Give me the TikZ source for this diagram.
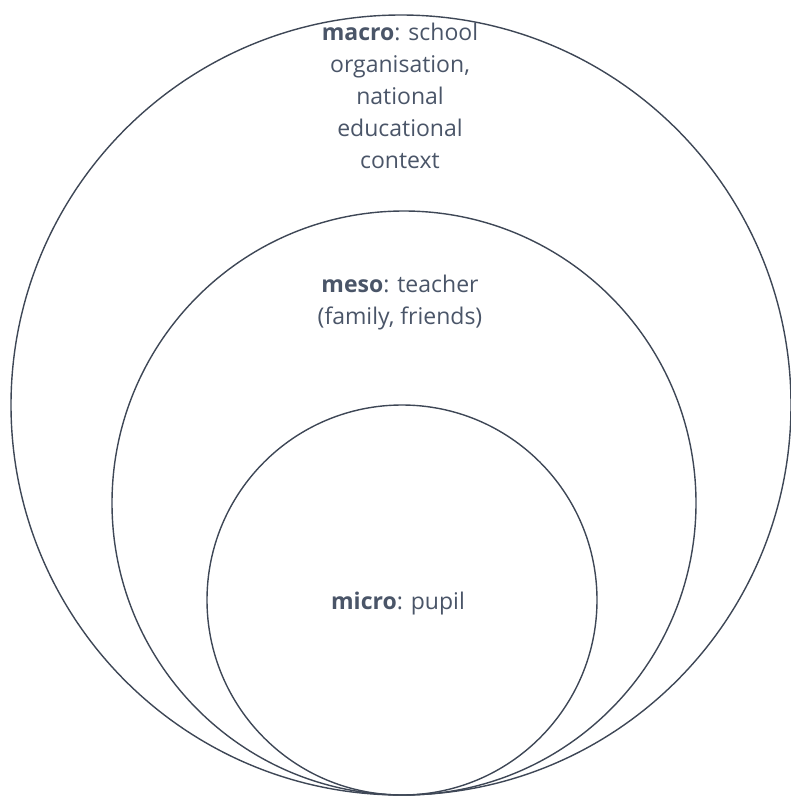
\documentclass[tikz,border=0pt]{standalone}
\usepackage{fontspec}
\setmainfont{Open Sans}
\definecolor{ringgray}{HTML}{3E4756}
\definecolor{textgray}{HTML}{4A5568}
\tikzset{ring/.style = {shape = circle,
                        color = ringgray,
                        line width = 1.4pt,
                        inner sep = 0pt,
                        draw},
         lvltext/.style = {align = center,
                           text = textgray,
                           inner sep = 0pt,
                           font = \fontsize{23}{32}\selectfont}}

\begin{document}
\begin{tikzpicture}[x=1pt, y=-1pt]
		\useasboundingbox (0,0) rectangle (790,798);
		\node[ring, minimum size = 780pt] (macro) at (401,405) {};
		\node[ring, minimum size = 584pt] (meso) at (404,503) {};
		\node[ring, minimum size = 390pt] (micro) at (402,600) {};
		\node[lvltext, anchor = north] (macrotext) at (400,23)
			{\textbf{macro}: school\\organisation,\\national\\educational\\context};
		\node[lvltext, anchor = north] (mesotext) at (400,275)
			{\textbf{meso}: teacher\\(family, friends)};
		\node[lvltext, anchor = base] (microtext) at (398,609)
			{\textbf{micro}: pupil};
	\end{tikzpicture}
\end{document}
